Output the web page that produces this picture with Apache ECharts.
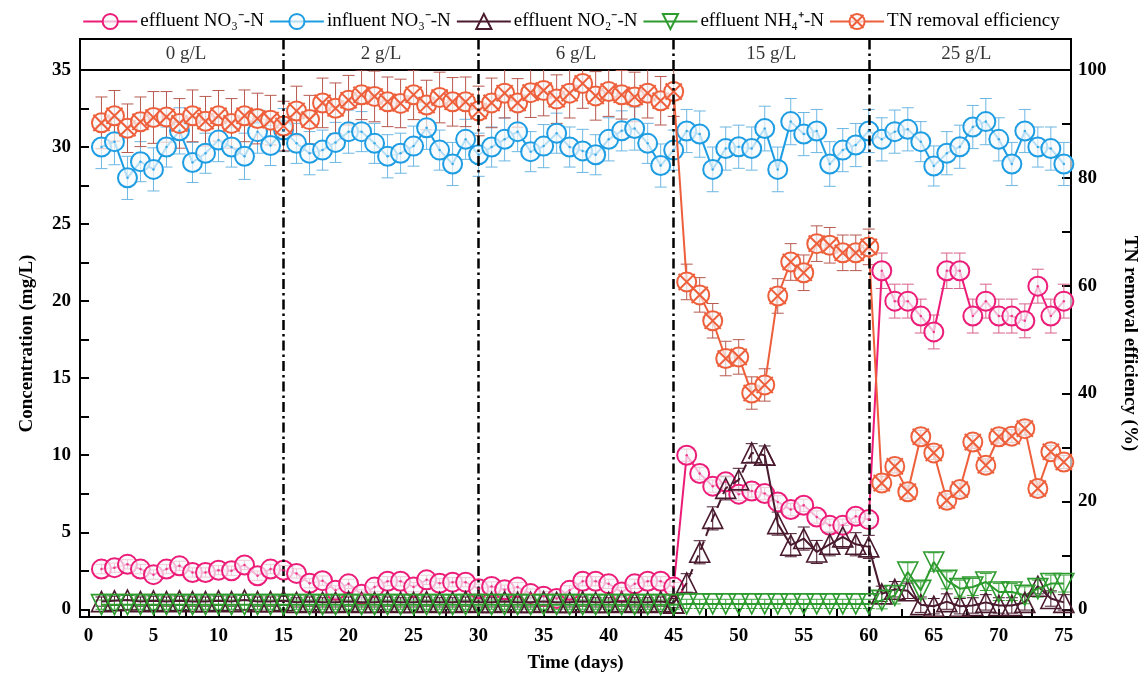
<!DOCTYPE html>
<html><head><meta charset="utf-8">
<script src="https://cdn.jsdelivr.net/npm/echarts@6/dist/echarts.min.js"></script>
<style>html,body{margin:0;padding:0;background:#fff}#c{width:1142px;height:684px}</style>
</head><body><div id="c"></div>
<script>
// ---------- data ----------
const days = [1,2,3,4,5,6,7,8,9,10,11,12,13,14,15,16,17,18,19,20,21,22,23,24,25,26,27,28,29,30,31,32,33,34,35,36,37,38,39,40,41,42,43,44,45,46,47,48,49,50,51,52,53,54,55,56,57,58,59,60,61,62,63,64,65,66,67,68,69,70,71,72,73,74,75];

const effluentNO3 = [2.61,2.7,2.92,2.61,2.25,2.61,2.82,2.39,2.39,2.54,2.5,2.88,2.18,2.61,2.54,
  2.33,1.69,1.86,1.23,1.65,0.97,1.44,1.82,1.82,1.44,1.91,1.69,1.76,1.76,1.33,
  1.48,1.27,1.44,1.02,0.85,0.7,1.23,1.82,1.82,1.65,1.12,1.65,1.82,1.82,1.44,
  10.0,8.81,7.99,8.27,7.47,7.68,7.51,6.97,6.47,6.75,5.99,5.45,5.45,6.04,5.82,
  21.97,20.0,20.0,19.03,18.0,21.97,21.97,19.03,20.0,19.03,19.03,18.72,20.97,19.03,20.0];
const effluentNO3Err = [0.3,0.3,0.3,0.3,0.3,0.3,0.3,0.3,0.3,0.3,0.3,0.3,0.3,0.3,0.3,
  0.3,0.3,0.3,0.3,0.3,0.3,0.3,0.3,0.3,0.3,0.3,0.3,0.3,0.3,0.3,
  0.3,0.3,0.3,0.3,0.3,0.3,0.3,0.3,0.3,0.3,0.3,0.3,0.3,0.3,0.3,
  0.4,0.4,0.4,0.4,0.4,0.4,0.4,0.4,0.4,0.4,0.4,0.4,0.4,0.4,0.4,
  1.15,1.1,1.1,1.1,1.1,1.15,1.15,1.1,1.1,1.1,1.1,1.1,1.1,1.1,1.1];

const influentNO3 = [30.0,30.35,28.0,29.05,28.55,30.0,31.05,29.0,29.6,30.45,30.0,29.4,31.0,30.1,31.1,
  30.24,29.6,29.8,30.3,31.0,31.0,30.24,29.4,29.6,30.06,31.25,29.8,28.9,30.5,29.5,
  30.0,30.5,31.0,29.7,30.06,30.9,30.0,29.75,29.5,30.5,31.05,31.2,30.24,28.8,29.8,
  31.04,30.84,28.55,29.9,30.02,29.9,31.2,28.55,31.65,30.84,31.04,28.9,29.8,30.13,31.04,
  30.5,31.0,31.15,30.35,28.77,29.6,30.02,31.3,31.65,30.5,28.9,31.04,30.0,29.9,28.9];
const influentNO3Err = [1.4,1.5,1.4,1.3,1.4,1.3,1.5,1.3,1.3,1.4,1.3,1.5,1.4,1.3,1.4,
  1.3,1.4,1.3,1.3,1.4,1.3,1.3,1.4,1.3,1.3,1.4,1.3,1.4,1.3,1.4,
  1.3,1.4,1.3,1.3,1.4,1.3,1.3,1.4,1.3,1.4,1.3,1.4,1.3,1.4,1.3,
  1.4,1.5,1.45,1.4,1.4,1.4,1.45,1.45,1.5,1.4,1.4,1.45,1.4,1.4,1.4,
  1.4,1.4,1.4,1.3,1.3,1.4,1.4,1.4,1.5,1.4,1.4,1.4,1.3,1.4,1.4];

const effluentNO2 = [0.5,0.55,0.6,0.5,0.55,0.5,0.55,0.5,0.5,0.55,0.5,0.6,0.5,0.5,0.55,
  0.45,0.5,0.45,0.45,0.5,0.45,0.45,0.5,0.45,0.45,0.5,0.45,0.45,0.5,0.45,
  0.45,0.5,0.45,0.45,0.5,0.45,0.45,0.5,0.45,0.45,0.5,0.45,0.45,0.5,0.4,
  1.71,3.7,5.9,7.85,8.4,10.15,10.0,5.56,4.16,4.59,3.72,4.22,4.7,4.22,4.05,
  1.0,1.3,1.2,0.3,0.2,0.5,0.2,0.25,0.45,0.25,0.25,0.45,1.5,0.7,0.45];
const effluentNO2Err = [0.3,0.3,0.3,0.3,0.3,0.3,0.3,0.3,0.3,0.3,0.3,0.3,0.3,0.3,0.3,
  0.3,0.3,0.3,0.3,0.3,0.3,0.3,0.3,0.3,0.3,0.3,0.3,0.3,0.3,0.3,
  0.3,0.3,0.3,0.3,0.3,0.3,0.3,0.3,0.3,0.3,0.3,0.3,0.3,0.3,0.3,
  0.6,0.75,0.75,0.75,0.75,0.6,0.6,0.75,0.75,0.75,0.75,0.75,0.75,0.75,0.75,
  0.5,0.5,0.5,0.5,0.5,0.5,0.5,0.5,0.5,0.5,0.5,0.5,0.5,0.5,0.5];

const effluentNH4 = [0.3,0.3,0.3,0.3,0.3,0.3,0.3,0.3,0.3,0.3,0.3,0.3,0.3,0.3,0.3,
  0.3,0.3,0.3,0.3,0.3,0.3,0.3,0.3,0.3,0.3,0.3,0.3,0.3,0.3,0.3,
  0.3,0.3,0.3,0.3,0.3,0.3,0.3,0.3,0.3,0.3,0.3,0.3,0.3,0.3,0.3,
  0.35,0.35,0.35,0.35,0.35,0.35,0.35,0.35,0.35,0.35,0.35,0.35,0.35,0.35,0.35,
  0.58,0.9,2.42,1.23,3.07,1.88,1.34,1.45,1.77,1.12,1.12,0.91,1.34,1.67,1.67];
const effluentNH4Err = [0.3,0.3,0.3,0.3,0.3,0.3,0.3,0.3,0.3,0.3,0.3,0.3,0.3,0.3,0.3,
  0.3,0.3,0.3,0.3,0.3,0.3,0.3,0.3,0.3,0.3,0.3,0.3,0.3,0.3,0.3,
  0.3,0.3,0.3,0.3,0.3,0.3,0.3,0.3,0.3,0.3,0.3,0.3,0.3,0.3,0.3,
  0.3,0.3,0.3,0.3,0.3,0.3,0.3,0.3,0.3,0.3,0.3,0.3,0.3,0.3,0.3,
  0.55,0.55,0.6,0.55,0.6,0.55,0.55,0.55,0.55,0.55,0.55,0.55,0.55,0.55,0.55];

const tnRemoval = [90.2,91.5,89.2,90.4,91.2,91.3,90.1,91.5,90.5,91.5,90.1,91.5,91.0,90.7,89.6,
  92.4,90.8,93.9,92.9,94.4,95.4,95.1,94.1,93.8,95.4,93.5,94.9,94.1,94.1,92.4,
  93.9,95.7,93.9,95.8,96.2,94.6,95.7,97.5,95.2,96.0,95.4,95.0,95.7,94.3,96.0,
  60.7,58.3,53.5,46.5,46.8,40.1,41.6,58.1,64.4,62.4,67.8,67.5,66.1,66.1,67.2,
  23.4,26.5,21.8,32.0,29.0,20.2,22.2,31.0,26.7,32.0,32.1,33.5,22.4,29.2,27.3];
const tnRemovalErr = [4.8,4.7,4.5,4.6,4.8,4.7,4.6,4.8,4.6,4.7,4.6,4.8,4.7,4.6,4.6,
  4.6,4.5,4.6,4.7,4.6,4.6,4.7,4.6,4.5,4.6,4.6,4.7,4.5,4.6,4.6,
  4.6,4.6,4.5,4.6,4.7,4.5,4.6,4.6,4.5,4.6,4.5,4.6,4.6,4.5,4.6,
  3.3,3.2,3.2,3.2,3.2,3.0,3.0,3.2,3.4,3.3,3.3,3.3,3.3,3.3,3.3,
  1.2,1.2,1.2,1.2,1.2,1.2,1.2,1.2,1.2,1.2,1.2,1.2,1.2,1.2,1.2];

const stageLabels = ['0 g/L','2 g/L','6 g/L','15 g/L','25 g/L'];
const stageCenters = [7.5,22.5,37.5,52.5,67.5];
const stageBounds = [15,30,45,60];
const dashedNO2Days = [45,52]; // range where NO2 line is dashed

const xLabelTicks = [0,5,10,15,20,25,30,35,40,45,50,55,60,65,70,75];
const xMinorTicks = [0,2.5,5,7.5,10,12.5,15,17.5,20,22.5,25,27.5,30,32.5,35,37.5,40,42.5,45,47.5,50,52.5,55,57.5,60,62.5,65,67.5,70,72.5,75];
const yLabelTicks = [0,5,10,15,20,25,30,35];
const yMinorTicks = [0,2.5,5,7.5,10,12.5,15,17.5,20,22.5,25,27.5,30,32.5,35];
const y2LabelTicks = [0,20,40,60,80,100];
const y2MinorTicks = [0,10,20,30,40,50,60,70,80,90,100];

// ---------- styling ----------
const PINK = '#EC1C78', BLUE = '#1E9DE3', MAROON = '#4A1A2E', GREEN = '#2E9B2E', ORANGE = '#EE5F3B';
const FONT = "'Liberation Serif', 'Times New Roman', serif";
const FILL = 'rgba(246,249,252,0.7)';
const Y_MIN = -0.5, Y_MAX = 35;
const Y2_MIN = Y_MIN / Y_MAX * 100, Y2_MAX = 100;

const pairs = (ys) => days.map((d, i) => [d, ys[i]]);

function errSeries(id, ys, es, color, yAxisIndex, capW) {
  return {
    type: 'custom', name: id, xAxisIndex: 0, yAxisIndex: yAxisIndex, z: 1, silent: true, clip: true,
    data: days.map((d, i) => [d, ys[i] - es[i], ys[i] + es[i]]),
    encode: { x: 0, y: [1, 2] },
    renderItem: function (params, api) {
      const x = api.value(0);
      const lo = api.coord([x, api.value(1)]);
      const hi = api.coord([x, api.value(2)]);
      const w = capW / 2;
      const st = { stroke: color, lineWidth: 1 };
      return { type: 'group', children: [
        { type: 'line', shape: { x1: lo[0], y1: lo[1], x2: hi[0], y2: hi[1] }, style: st },
        { type: 'line', shape: { x1: lo[0] - w, y1: lo[1], x2: lo[0] + w, y2: lo[1] }, style: st },
        { type: 'line', shape: { x1: hi[0] - w, y1: hi[1], x2: hi[0] + w, y2: hi[1] }, style: st }
      ]};
    }
  };
}
function dotSeries(id, ys, color, yAxisIndex) {
  return { type: 'scatter', name: id, xAxisIndex: 0, yAxisIndex: yAxisIndex, z: 6, silent: true,
    symbol: 'circle', symbolSize: 2.5, itemStyle: { color: color }, data: pairs(ys) };
}

const N_NO3E = 'effluent NO\u2083\u207B-N';
const N_NO3I = 'influent NO\u2083\u207B-N';
const N_NO2 = 'effluent NO\u2082\u207B-N';
const N_NH4 = 'effluent NH\u2084\u207A-N';
const N_TN = 'TN removal efficiency';

const crossCircle = 'path://M10,0 A10,10 0 1,1 -10,0 A10,10 0 1,1 10,0 Z M-8.5,-8.5 L8.5,8.5 M8.5,-8.5 L-8.5,8.5';

// NO2 solid part (gap in the dashed range) and dashed part
const no2Solid = days.map((d, i) => [d, (d > dashedNO2Days[0] && d < dashedNO2Days[1]) ? null : effluentNO2[i]]);
const no2Dashed = days.map((d, i) => [d, effluentNO2[i]]).filter(p => p[0] >= dashedNO2Days[0] && p[0] <= dashedNO2Days[1]);

const vline = {
  silent: true, symbol: ['none', 'none'], label: { show: false },
  lineStyle: { color: '#000', width: 2.5, type: [10, 4, 2.5, 4] },
  data: stageBounds.map(b => ({ xAxis: b }))
};

const axisFont = { fontFamily: FONT, fontWeight: 'bold', fontSize: 19, color: '#000' };

const option = {
  animation: false,
  backgroundColor: '#fff',
  legend: {
    top: 7, left: 'center', itemWidth: 54, itemHeight: 19, itemGap: 5,
    data: [N_NO3E, N_NO3I, N_NO2, N_NH4, N_TN],
    textStyle: { fontFamily: FONT, fontSize: 19, color: '#000', padding: [0, 0, 0, -2] }
  },
  grid: [
    { left: 80, right: 71, top: 70, bottom: 67, outerBoundsMode: 'none', containLabel: false },
    { left: 80, right: 71, top: 39, height: 31, show: true, borderColor: '#000', borderWidth: 2, outerBoundsMode: 'none' }
  ],
  xAxis: [
    { type: 'value', gridIndex: 0, min: -0.65, max: 75.55,
      axisLine: { show: true, onZero: false, lineStyle: { color: '#000', width: 2 } },
      axisTick: { show: true, inside: true, length: 8, customValues: xMinorTicks, lineStyle: { color: '#000', width: 2 } },
      axisLabel: Object.assign({ customValues: xLabelTicks, margin: 10 }, axisFont),
      splitLine: { show: false },
      name: 'Time (days)', nameLocation: 'middle', nameGap: 37, nameTextStyle: axisFont },
    { type: 'value', gridIndex: 1, min: -0.65, max: 75.55, show: false }
  ],
  yAxis: [
    { type: 'value', gridIndex: 0, min: Y_MIN, max: Y_MAX,
      axisLine: { show: true, onZero: false, lineStyle: { color: '#000', width: 2 } },
      axisTick: { show: true, inside: true, length: 9, customValues: yMinorTicks, lineStyle: { color: '#000', width: 2 } },
      axisLabel: Object.assign({ customValues: yLabelTicks, margin: 9 }, axisFont),
      splitLine: { show: false },
      name: 'Concentration (mg/L)', nameLocation: 'middle', nameGap: 43, nameRotate: 90, nameTextStyle: axisFont },
    { type: 'value', gridIndex: 0, position: 'right', min: Y2_MIN, max: Y2_MAX,
      axisLine: { show: true, onZero: false, lineStyle: { color: '#000', width: 2 } },
      axisTick: { show: true, inside: true, length: 9, customValues: y2MinorTicks, lineStyle: { color: '#000', width: 2 } },
      axisLabel: Object.assign({ customValues: y2LabelTicks, margin: 7 }, axisFont),
      splitLine: { show: false },
      name: 'TN removal efficiency (%)', nameLocation: 'middle', nameGap: 49, nameRotate: -90, nameTextStyle: axisFont },
    { type: 'value', gridIndex: 1, min: 0, max: 1, show: false }
  ],
  series: [
    // error bars
    errSeries('errInf', influentNO3, influentNO3Err, '#6DB7E3', 0, 12),
    errSeries('errEff', effluentNO3, effluentNO3Err, '#D8628A', 0, 12),
    errSeries('errNO2', effluentNO2, effluentNO2Err, MAROON, 0, 12),
    errSeries('errNH4', effluentNH4, effluentNH4Err, '#3FA53F', 0, 12),
    errSeries('errTN', tnRemoval, tnRemovalErr, '#B85A50', 1, 12),
    // main series
    { name: N_NO3E, type: 'line', xAxisIndex: 0, yAxisIndex: 0, z: 4, data: pairs(effluentNO3),
      symbol: 'circle', symbolSize: 19, showAllSymbol: true,
      lineStyle: { color: PINK, width: 2 }, itemStyle: { color: FILL, borderColor: PINK, borderWidth: 2 } },
    { name: N_NO3I, type: 'line', xAxisIndex: 0, yAxisIndex: 0, z: 3, data: pairs(influentNO3),
      symbol: 'circle', symbolSize: 19, showAllSymbol: true,
      lineStyle: { color: BLUE, width: 2 }, itemStyle: { color: FILL, borderColor: BLUE, borderWidth: 2 } },
    { name: N_NO2, type: 'line', xAxisIndex: 0, yAxisIndex: 0, z: 5, data: no2Solid,
      symbol: 'triangle', symbolSize: 20, showAllSymbol: true, connectNulls: false,
      lineStyle: { color: MAROON, width: 2 }, itemStyle: { color: 'rgba(255,255,255,0)', borderColor: MAROON, borderWidth: 1.6 } },
    { name: N_NO2, type: 'line', xAxisIndex: 0, yAxisIndex: 0, z: 5, data: no2Dashed,
      symbol: 'triangle', symbolSize: 20, showAllSymbol: true,
      lineStyle: { color: MAROON, width: 2, type: [9, 6] }, itemStyle: { color: 'rgba(255,255,255,0)', borderColor: MAROON, borderWidth: 1.6 } },
    { name: N_NH4, type: 'line', xAxisIndex: 0, yAxisIndex: 0, z: 5, data: pairs(effluentNH4),
      symbol: 'triangle', symbolRotate: 180, symbolSize: 20, showAllSymbol: true,
      lineStyle: { color: GREEN, width: 2 }, itemStyle: { color: 'rgba(255,255,255,0)', borderColor: GREEN, borderWidth: 1.6 } },
    { name: N_TN, type: 'line', xAxisIndex: 0, yAxisIndex: 1, z: 4, data: pairs(tnRemoval),
      symbol: crossCircle, symbolSize: 19, symbolKeepAspect: true, showAllSymbol: true,
      lineStyle: { color: ORANGE, width: 2 }, itemStyle: { color: FILL, borderColor: ORANGE, borderWidth: 2 } },
    // center dots
    dotSeries('dotEff', effluentNO3, PINK, 0),
    dotSeries('dotInf', influentNO3, BLUE, 0),
    // stage boundaries in main plot
    { type: 'scatter', name: 'bounds', xAxisIndex: 0, yAxisIndex: 0, data: [], z: 7, markLine: vline },
    // header strip
    { type: 'scatter', name: 'stages', xAxisIndex: 1, yAxisIndex: 2, z: 7, silent: true,
      symbolSize: 1, itemStyle: { color: 'rgba(0,0,0,0)' },
      data: stageCenters.map((c, i) => [c, 0.5, stageLabels[i]]),
      label: { show: true, position: 'inside', formatter: p => p.value[2],
        fontFamily: FONT, fontSize: 19, color: '#000' },
      markLine: vline }
  ]
};

const chart = echarts.init(document.getElementById('c'), null, { renderer: 'canvas' });
chart.setOption(option);
</script>
</body></html>
